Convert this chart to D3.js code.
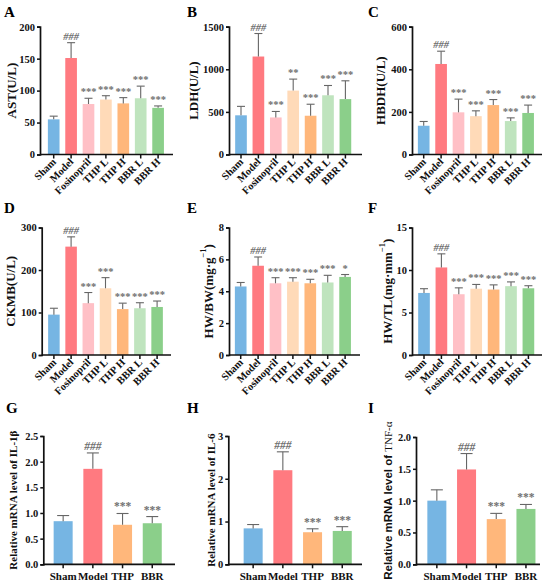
<!DOCTYPE html>
<html><head><meta charset="utf-8">
<script src="https://cdn.jsdelivr.net/npm/d3@7"></script>
<style>
body{margin:0;background:#fff;}
svg{display:block;}
</style></head>
<body>
<svg id="chart" width="550" height="585"></svg>
<script>
// ---------- data ----------
const groups7 = ["Sham","Model","Fosinopril","THP L","THP H","BBR L","BBR H"];
const groups4 = ["Sham","Model","THP","BBR"];
const colors7 = ["#76b5e3","#ff7a80","#ffc0c6","#ffdab8","#ffb77b","#bfe4be","#8bcf8a"];
const colors4 = ["#76b5e3","#ff7a80","#ffb77b","#8bcf8a"];

const astMean = [55,151,79,86,80,88,73];
const astSD   = [5,24,9,6,9,19,3];
const astSig  = ["","###","***","***","***","***","***"];
const astTicks = [0,50,100,150,200];

const ldhMean = [460,1150,435,750,455,695,650];
const ldhSD   = [105,270,70,135,135,115,215];
const ldhSig  = ["","###","***","**","***","***","***"];
const ldhTicks = [0,500,1000,1500];

const hbdhMean = [135,425,198,180,232,157,195];
const hbdhSD   = [20,60,62,25,26,15,37];
const hbdhSig  = ["","###","***","***","***","***","***"];
const hbdhTicks = [0,200,400,600];

const ckmbMean = [95,255,122,157,108,110,113];
const ckmbSD   = [15,23,25,25,14,13,14];
const ckmbSig  = ["","###","***","***","***","***","***"];
const ckmbTicks = [0,100,200,300];

const hwbwMean = [4.3,5.6,4.5,4.6,4.5,4.55,4.9];
const hwbwSD   = [0.25,0.55,0.35,0.25,0.25,0.45,0.15];
const hwbwSig  = ["","###","***","***","***","***","*"];
const hwbwTicks = [0,2,4,6,8];

const hwtlMean = [7.3,10.3,7.15,7.8,7.7,8.1,7.85];
const hwtlSD   = [0.5,1.6,0.75,0.5,0.55,0.5,0.3];
const hwtlSig  = ["","###","***","***","***","***","***"];
const hwtlTicks = [0,5,10,15];

const il1bMean = [0.84,1.86,0.77,0.80];
const il1bSD   = [0.11,0.31,0.22,0.13];
const il1bSig  = ["","###","***","***"];
const il1bTicks = [0,0.5,1.0,1.5,2.0,2.5];

const il6Mean = [0.84,2.2,0.75,0.78];
const il6SD   = [0.09,0.43,0.08,0.10];
const il6Sig  = ["","###","***","***"];
const il6Ticks = [0,1,2,3];

const tnfMean = [1.0,1.49,0.71,0.87];
const tnfSD   = [0.17,0.25,0.09,0.07];
const tnfSig  = ["","###","***","***"];
const tnfTicks = [0,0.5,1.0,1.5,2.0];

// ---------- layout ----------
const SERIF = "'Liberation Serif','Times New Roman',serif";
const SANS = "'Liberation Sans',Arial,sans-serif";
const panels = [
 {letter:"A", lx:4,   ly:17, ax:40,  y0:154.5, yt:26.7, start:5, step:17.4, end:173, cats:groups7, cols:colors7, mean:astMean, sd:astSD, sig:astSig, ticks:astTicks, fmt:d3.format("d"), label:["AST(U/L)"], labX:11},
 {letter:"B", lx:187, ly:17, ax:229, y0:154.5, yt:26.7, start:3.3, step:17.4, end:362, cats:groups7, cols:colors7, mean:ldhMean, sd:ldhSD, sig:ldhSig, ticks:ldhTicks, fmt:d3.format("d"), label:["LDH(U/L)"], labX:193},
 {letter:"C", lx:368, ly:17, ax:412, y0:154.5, yt:26.7, start:3, step:17.4, end:542, cats:groups7, cols:colors7, mean:hbdhMean, sd:hbdhSD, sig:hbdhSig, ticks:hbdhTicks, fmt:d3.format("d"), label:["HBDH(U/L)"], labX:380},
 {letter:"D", lx:4,   ly:213, ax:41.7, y0:355, yt:227.5, start:3.6, step:17.2, end:171, cats:groups7, cols:colors7, mean:ckmbMean, sd:ckmbSD, sig:ckmbSig, ticks:ckmbTicks, fmt:d3.format("d"), label:["CKMB(U/L)"], labX:10},
 {letter:"E", lx:187, ly:213, ax:229, y0:355, yt:227.5, start:3, step:17.4, end:360, cats:groups7, cols:colors7, mean:hwbwMean, sd:hwbwSD, sig:hwbwSig, ticks:hwbwTicks, fmt:d3.format("d"), label:["HW/BW(mg·g","−1",")"], labX:208},
 {letter:"F", lx:368, ly:213, ax:412, y0:355, yt:227.5, start:3.3, step:17.4, end:542, cats:groups7, cols:colors7, mean:hwtlMean, sd:hwtlSD, sig:hwtlSig, ticks:hwtlTicks, fmt:d3.format("d"), label:["HW/TL(mg·mm","−1",")"], labX:387},
 {letter:"G", lx:6,   ly:413, ax:43.3, y0:564.3, yt:436, start:5, step:29.7, end:175, cats:groups4, cols:colors4, mean:il1bMean, sd:il1bSD, sig:il1bSig, ticks:il1bTicks, fmt:d3.format(".1f"), label:["Relative mRNA level of IL-1β"], labX:13},
 {letter:"H", lx:187, ly:413, ax:228.3, y0:564.3, yt:436, start:10, step:29.7, end:362, cats:groups4, cols:colors4, mean:il6Mean, sd:il6SD, sig:il6Sig, ticks:il6Ticks, fmt:d3.format("d"), label:["Relative mRNA level of IL-6"], labX:211},
 {letter:"I", lx:368, ly:413, ax:416, y0:564.3, yt:437, start:6, step:29.7, end:540, cats:groups4, cols:colors4, mean:tnfMean, sd:tnfSD, sig:tnfSig, ticks:tnfTicks, fmt:d3.format(".1f"), label:["Relative mRNA level of ","TNF-α"], labX:388, sans:true}
];

const svg = d3.select("#chart");

panels.forEach(p => {
  const g = svg.append("g");
  const n = p.cats.length;
  const pi = n === 7 ? 0.33 : 0.36;
  const x = d3.scaleBand().domain(p.cats)
      .range([p.ax + p.start, p.ax + p.start + n*p.step])
      .paddingInner(pi).paddingOuter(pi/2);
  const yMax = p.ticks[p.ticks.length-1];
  const y = d3.scaleLinear().domain([0, yMax]).range([p.y0, p.yt]);

  // panel letter
  g.append("text").attr("x", p.lx).attr("y", p.ly).attr("font-family", SERIF)
    .attr("font-size", 15).attr("font-weight", "bold").attr("fill","#000").text(p.letter);

  const rows = p.cats.map((c,i)=>({c, m:p.mean[i], s:p.sd[i], sig:p.sig[i], col:p.cols[i]}));

  // bars
  g.selectAll("rect.bar").data(rows).enter().append("rect")
    .attr("x", d=>x(d.c)).attr("width", x.bandwidth())
    .attr("y", d=>y(d.m)).attr("height", d=>y(0)-y(d.m))
    .attr("fill", d=>d.col);

  // error bars (upper only)
  const cap = n===7 ? 4 : 6;
  rows.forEach(d=>{
    const cx = x(d.c) + x.bandwidth()/2;
    g.append("line").attr("x1",cx).attr("x2",cx).attr("y1",y(d.m)).attr("y2",y(d.m+d.s))
      .attr("stroke","#666").attr("stroke-width",1.1);
    g.append("line").attr("x1",cx-cap).attr("x2",cx+cap).attr("y1",y(d.m+d.s)).attr("y2",y(d.m+d.s))
      .attr("stroke","#666").attr("stroke-width",1.1);
    if (d.sig) {
      g.append("text").attr("x",cx).attr("y",y(d.m+d.s)-3)
        .attr("text-anchor","middle").attr("font-family", SERIF)
        .attr("font-size", n===7?10.5:11.5).attr("font-weight","bold")
        .attr("fill","#707070").attr("font-style", d.sig.startsWith("#")?"italic":"normal")
        .text(d.sig);
    }
  });

  // y axis
  const yAxis = d3.axisLeft(y).tickValues(p.ticks).tickFormat(p.fmt).tickSizeOuter(0).tickSize(3).tickPadding(2);
  const ya = g.append("g").attr("transform",`translate(${p.ax},0)`).call(yAxis);
  ya.select(".domain").attr("stroke","#111").attr("stroke-width",1.7);
  ya.selectAll(".tick line").attr("stroke","#111").attr("stroke-width",1.5);
  ya.selectAll(".tick text").attr("font-family",SERIF).attr("font-weight","bold")
    .attr("font-size",10.5).attr("fill","#111");

  // x axis
  const xAxis = d3.axisBottom(x).tickSize(4).tickSizeOuter(0);
  const xa = g.append("g").attr("transform",`translate(0,${p.y0})`).call(xAxis);
  xa.select(".domain").attr("d",`M${p.ax},0H${p.end}`).attr("stroke","#111").attr("stroke-width",1.7);
  xa.selectAll(".tick line").attr("stroke","#111").attr("stroke-width",1.5);
  const xt = xa.selectAll(".tick text").attr("font-family",SERIF)
    .attr("font-weight","bold").attr("fill","#111");
  if (n === 7) {
    xt.attr("font-size",10.5).attr("text-anchor","end").attr("dy",0).attr("y",0)
      .attr("transform","translate(3,8) rotate(-45)");
  } else {
    xt.attr("font-size",11).attr("y",8).attr("dy","0.71em");
  }

  // y label
  const cy = (p.y0 + p.yt)/2;
  const lab = g.append("text").attr("transform",`translate(${p.labX},${cy}) rotate(-90)`)
    .attr("text-anchor","middle").attr("dominant-baseline","central").attr("font-family",SERIF)
    .attr("font-weight","bold").attr("font-size", n===7?13:11).attr("fill","#111");
  if (p.label.length === 3) {
    lab.append("tspan").text(p.label[0]);
    lab.append("tspan").attr("baseline-shift","super").attr("font-size",8.5).text(p.label[1]);
    lab.append("tspan").text(p.label[2]);
  } else if (p.sans) {
    lab.append("tspan").attr("font-family",SANS).attr("font-size",11.5).text(p.label[0]);
    lab.append("tspan").attr("font-weight","normal").attr("font-size",11).text(p.label[1]);
  } else {
    lab.append("tspan").text(p.label[0]);
  }
});
</script>
</body></html>
